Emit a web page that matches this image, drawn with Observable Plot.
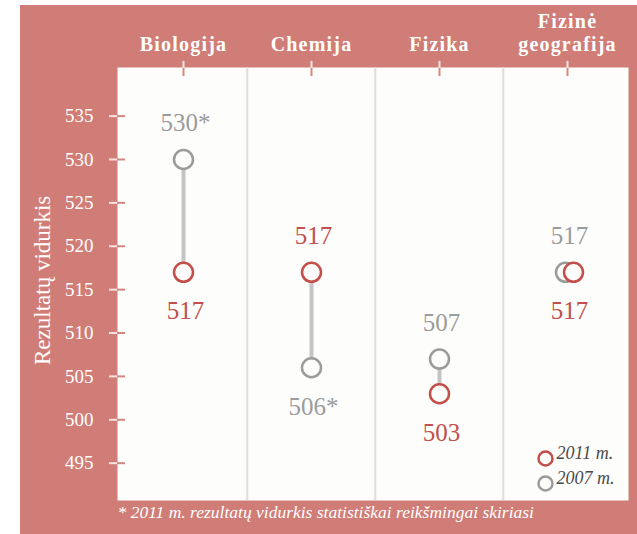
<!DOCTYPE html>
<html><head><meta charset="utf-8">
<script src="https://cdn.jsdelivr.net/npm/d3@7"></script>
<script src="https://cdn.jsdelivr.net/npm/@observablehq/plot@0.6"></script>
<style>
body{margin:0;background:#fff;}
#chart{position:absolute;left:20px;top:5px;}
#chart svg, #chart svg text{font-family:"Liberation Serif",serif !important;}
</style></head><body><div id="chart"></div>
<script>
const subjects = ["Biologija", "Chemija", "Fizika", "Fizinė geografija"];
const values2007 = [530, 506, 507, 517];
const values2011 = [517, 517, 503, 517];
const significant2007 = [true, true, false, false];
const yTicks = [495, 500, 505, 510, 515, 520, 525, 530, 535];
const legendLabels = ["2011 m.", "2007 m."];
const yTitle = "Rezultatų vidurkis";
const footnote = "* 2011 m. rezultatų vidurkis statistiškai reikšmingai skiriasi";

const SALMON = "#cf7d76", PANEL = "#fdfdfb", RED = "#c24f4b", GRAY = "#9b9b9b";
const FONT = "Liberation Serif";

const rows = subjects.map((s, i) => ({subject: s, v2007: values2007[i], v2011: values2011[i]}));
const points = [];
subjects.forEach((s, i) => {
  const a = values2007[i], b = values2011[i];
  points.push({subject: s, year: 2007, value: a, label: a + (significant2007[i] ? "*" : ""),
    pos: a >= b ? "above" : "below", overlap: a === b});
  points.push({subject: s, year: 2011, value: b, label: String(b),
    pos: b > a ? "above" : "below", overlap: a === b});
});

const W = 617, H = 529, mL = 97, mR = 9, mT = 62, mB = 34;
const xRange = [98, 612];
const bw = (xRange[1] - xRange[0]) / subjects.length;

function dots(year, color) {
  const ps = points.filter(d => d.year === year);
  return [
    Plot.dot(ps.filter(d => !d.overlap), {x: "subject", y: "value", r: 9.5, stroke: color, strokeWidth: 2.5, fill: PANEL}),
    Plot.dot(ps.filter(d => d.overlap), {x: "subject", y: "value", r: 9.5, stroke: color, strokeWidth: 2.5, fill: PANEL, dx: year === 2007 ? -2 : 6})
  ];
}
function labels(year, color) {
  const ps = points.filter(d => d.year === year);
  return [
    Plot.text(ps.filter(d => d.pos === "above"), {x: "subject", y: "value", text: "label", dy: -36, fill: color, fontSize: 25, fontFamily: FONT, dx: 2}),
    Plot.text(ps.filter(d => d.pos === "below"), {x: "subject", y: "value", text: "label", dy: 39, fill: color, fontSize: 25, fontFamily: FONT, dx: 2})
  ];
}

const chart = Plot.plot({
  width: W, height: H,
  marginLeft: mL, marginRight: mR, marginTop: mT, marginBottom: mB,
  style: {background: SALMON, overflow: "visible"},
  x: {type: "band", domain: subjects, padding: 0, range: xRange, axis: null},
  y: {domain: [490.7, 540.6], axis: null},
  marks: [
    Plot.frame({fill: PANEL, stroke: "none"}),
    Plot.ruleX(subjects.slice(1), {x: d => d, dx: -bw / 2, stroke: "#dedede", strokeWidth: 2}),
    Plot.link(rows, {x1: "subject", x2: "subject", y1: "v2007", y2: "v2011", stroke: "#c4c4c4", strokeWidth: 4}),
    ...dots(2007, GRAY),
    ...dots(2011, RED),
    ...labels(2007, GRAY),
    ...labels(2011, RED),
    Plot.axisY(yTicks, {anchor: "left", tickSize: 8, tickPadding: 16, stroke: "#f7e4e2", strokeWidth: 2, fill: "white", color: "white", fontSize: 19, fontFamily: FONT, label: null}),
    Plot.axisY(yTicks, {anchor: "left", tickSize: 8, dx: 8, stroke: "#d6847e", strokeWidth: 2, tickFormat: () => "", label: null}),
    Plot.axisX(subjects, {anchor: "top", tickSize: 7, tickPadding: 10, stroke: "#f7e4e2", strokeWidth: 2, fill: "white", color: "white", fontSize: 20, fontWeight: "bold", fontFamily: FONT, lineHeight: 1.15, tickFormat: d => d.replace(" ", "\n"), label: null}),
    Plot.axisX(subjects, {anchor: "top", tickSize: 8, dy: 8, stroke: "#d6847e", strokeWidth: 2, tickFormat: () => "", label: null}),
    Plot.text([yTitle], {text: d => d, frameAnchor: "left", textAnchor: "start", dx: -75, dy: 81, rotate: -90, fill: "white", fontSize: 23, fontFamily: FONT}),
    Plot.dot([legendLabels[0]], {frameAnchor: "bottom-right", dx: -83, dy: -42, r: 7, stroke: RED, strokeWidth: 2.5, fill: PANEL}),
    Plot.dot([legendLabels[1]], {frameAnchor: "bottom-right", dx: -83, dy: -17, r: 7, stroke: GRAY, strokeWidth: 2.5, fill: PANEL}),
    Plot.text([legendLabels[0]], {text: d => d, frameAnchor: "bottom-right", dx: -72, dy: -42, textAnchor: "start", fontStyle: "italic", fontSize: 18, fontFamily: FONT, fill: "#4a4a4a"}),
    Plot.text([legendLabels[1]], {text: d => d, frameAnchor: "bottom-right", dx: -72, dy: -17, textAnchor: "start", fontStyle: "italic", fontSize: 18, fontFamily: FONT, fill: "#4a4a4a"}),
    Plot.text([footnote], {text: d => d, frameAnchor: "bottom-left", dy: 17, textAnchor: "start", fontStyle: "italic", fontSize: 17.5, fontFamily: FONT, fill: "white"})
  ]
});
chart.setAttribute("font-family", FONT);
chart.querySelectorAll("text").forEach(t => t.setAttribute("font-family", FONT));
chart.querySelectorAll("g[aria-label='x-axis tick label'] text").forEach(t => t.setAttribute("letter-spacing", "1.2"));
document.getElementById("chart").appendChild(chart);
</script></body></html>
